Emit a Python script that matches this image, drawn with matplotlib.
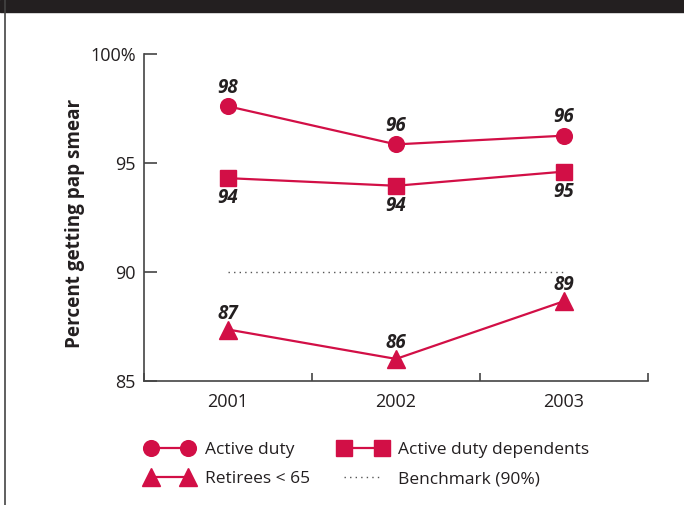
import matplotlib.pyplot as plt
from matplotlib.lines import Line2D
from matplotlib.patches import Rectangle

# Data
years = ["2001", "2002", "2003"]
active_duty = [97.6, 95.85, 96.25]
dependents = [94.3, 93.95, 94.6]
retirees = [87.35, 86.0, 88.65]
benchmark = 90

active_lbl = ["98", "96", "96"]
dependents_lbl = ["94", "94", "95"]
retirees_lbl = ["87", "86", "89"]

red = "#d20f46"
dark = "#231f20"
plt.rcParams['font.family'] = ['Open Sans', 'DejaVu Sans']

fig = plt.figure(figsize=(6.84, 5.05), dpi=100)
# black top band and left frame line
fig.patches.append(Rectangle((0, 1 - 12 / 505), 1, 12 / 505, transform=fig.transFigure,
                             color=dark, zorder=0))
fig.add_artist(Line2D([4.5 / 684, 4.5 / 684], [0, 1], transform=fig.transFigure,
                      color="#444444", lw=1.2))

ax = fig.add_axes([144 / 684, 1 - 380.7 / 505, 504 / 684, 326.7 / 505])
x = list(range(len(years)))

ax.plot(x, active_duty, color=red, lw=1.6, marker="o", ms=11.3, label="Active duty")
ax.plot(x, dependents, color=red, lw=1.6, marker="s", ms=12, label="Active duty dependents")
ax.plot(x, retirees, color=red, lw=1.6, marker="^", ms=12.5, label="Retirees < 65")
ax.plot(x, [benchmark] * len(x), color="#555555", lw=1, ls=(0, (1, 3)),
        label="Benchmark (90%)")

lab_kw = dict(ha="center", va="center", fontsize=13.5, fontweight="bold", style="italic",
              color=dark, textcoords="offset points")
for i in x:
    ax.annotate(active_lbl[i], (i, active_duty[i]), xytext=(0, 13.5), **lab_kw)
    ax.annotate(dependents_lbl[i], (i, dependents[i]), xytext=(0, -14.5), **lab_kw)
    ax.annotate(retirees_lbl[i], (i, retirees[i]), xytext=(0, 11.5), **lab_kw)

ax.set_xlim(-0.5, 2.5)
ax.set_ylim(85, 100)
ax.set_yticks([85, 90, 95, 100])
ax.set_yticklabels(["85", "90", "95", "100%"])
ax.set_xticks([-0.5, 0.5, 1.5, 2.5])
ax.set_xticklabels([])
ax.set_xticks(x, minor=True)
ax.set_xticklabels(years, minor=True)
ax.tick_params(axis="x", which="major", direction="in", length=6, width=1.2, color="#444444")
ax.tick_params(axis="x", which="minor", length=0, pad=9, labelsize=13, labelcolor=dark)
ax.tick_params(axis="y", direction="in", length=9, width=1.2, color="#444444",
               labelsize=13, labelcolor=dark, pad=6)
for s in ["top", "right"]:
    ax.spines[s].set_visible(False)
for s in ["left", "bottom"]:
    ax.spines[s].set_color("#444444")
    ax.spines[s].set_linewidth(1.2)

ax.set_ylabel("Percent getting pap smear", fontsize=13.6, fontweight="bold", color=dark)
ax.yaxis.set_label_coords(-0.117, 0.48)

handles, labels = ax.get_legend_handles_labels()
order = [0, 2, 1, 3]
fig.legend([handles[i] for i in order], [labels[i] for i in order], ncol=2,
           loc="upper left", bbox_to_anchor=(130 / 684, 1 - 426 / 505), frameon=False,
           numpoints=2, handlelength=2.75, handletextpad=0.65, columnspacing=1.7,
           labelspacing=0.78, fontsize=12.5, labelcolor=dark)

fig.savefig("out.png", dpi=100)
